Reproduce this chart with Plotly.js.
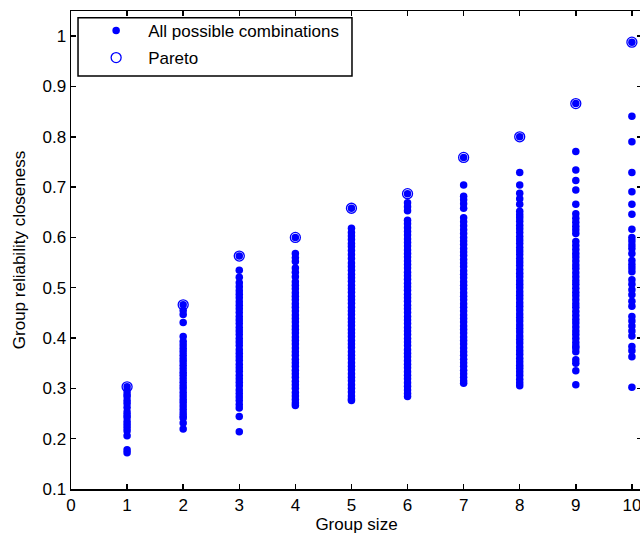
<!DOCTYPE html>
<html>
<head>
<meta charset="utf-8">
<script src="https://cdn.plot.ly/plotly-3.0.1.min.js"></script>
<style>
html,body{margin:0;padding:0;overflow:hidden;background:#fff;width:640px;height:534px;}
#chart{width:642px;height:534px;}
</style>
</head>
<body>
<div id="chart"></div>
<script>
// Group sizes (x categories)
const groupSizes = [1, 2, 3, 4, 5, 6, 7, 8, 9, 10];

// Pareto front: best group reliability closeness for each group size
const paretoValues = [0.303, 0.466, 0.563, 0.600, 0.658, 0.687, 0.759, 0.800, 0.866, 0.988];

// All possible combinations, per group size
const comb1 = [0.303, 0.296, 0.289, 0.284, 0.276, 0.270, 0.262, 0.253, 0.247, 0.242, 0.234, 0.228, 0.222, 0.216, 0.206, 0.178, 0.172];
const comb2 = [0.466, 0.455, 0.447, 0.431, 0.403, 0.393, 0.386, 0.379, 0.373, 0.366, 0.359, 0.353, 0.346, 0.339, 0.332, 0.326, 0.319, 0.312, 0.305, 0.299, 0.292, 0.285, 0.278, 0.272, 0.265, 0.258, 0.251, 0.245, 0.241, 0.231, 0.219];
const comb3 = [0.563, 0.535, 0.521, 0.510, 0.502, 0.494, 0.487, 0.480, 0.472, 0.465, 0.458, 0.451, 0.443, 0.436, 0.429, 0.421, 0.414, 0.407, 0.399, 0.392, 0.385, 0.377, 0.370, 0.363, 0.356, 0.348, 0.341, 0.334, 0.326, 0.319, 0.312, 0.305, 0.297, 0.290, 0.283, 0.276, 0.268, 0.261, 0.244, 0.214];
const comb4 = [0.600, 0.568, 0.560, 0.552, 0.539, 0.531, 0.522, 0.512, 0.505, 0.498, 0.490, 0.483, 0.476, 0.468, 0.461, 0.454, 0.446, 0.439, 0.432, 0.424, 0.417, 0.410, 0.402, 0.395, 0.388, 0.380, 0.373, 0.366, 0.358, 0.351, 0.344, 0.336, 0.329, 0.322, 0.314, 0.307, 0.300, 0.292, 0.285, 0.278, 0.271, 0.266];
const comb5 = [0.658, 0.618, 0.610, 0.603, 0.596, 0.588, 0.582, 0.574, 0.566, 0.558, 0.549, 0.542, 0.535, 0.527, 0.520, 0.513, 0.505, 0.498, 0.491, 0.483, 0.476, 0.469, 0.461, 0.454, 0.447, 0.439, 0.432, 0.425, 0.417, 0.410, 0.403, 0.395, 0.388, 0.381, 0.373, 0.366, 0.359, 0.351, 0.344, 0.337, 0.329, 0.322, 0.315, 0.307, 0.300, 0.293, 0.285, 0.279, 0.276];
const comb6 = [0.687, 0.669, 0.661, 0.653, 0.634, 0.627, 0.619, 0.612, 0.605, 0.597, 0.590, 0.583, 0.575, 0.568, 0.561, 0.553, 0.546, 0.539, 0.531, 0.524, 0.517, 0.509, 0.502, 0.495, 0.487, 0.480, 0.473, 0.465, 0.458, 0.451, 0.443, 0.436, 0.429, 0.421, 0.414, 0.407, 0.399, 0.392, 0.385, 0.377, 0.370, 0.363, 0.355, 0.348, 0.341, 0.333, 0.326, 0.319, 0.311, 0.304, 0.297, 0.290, 0.284];
const comb7 = [0.759, 0.704, 0.682, 0.675, 0.667, 0.658, 0.639, 0.631, 0.623, 0.615, 0.608, 0.600, 0.593, 0.586, 0.578, 0.571, 0.564, 0.556, 0.549, 0.542, 0.534, 0.527, 0.520, 0.512, 0.505, 0.498, 0.490, 0.483, 0.476, 0.468, 0.461, 0.454, 0.446, 0.439, 0.432, 0.424, 0.417, 0.410, 0.402, 0.395, 0.388, 0.380, 0.373, 0.366, 0.358, 0.351, 0.344, 0.336, 0.329, 0.322, 0.315, 0.310];
const comb8 = [0.800, 0.729, 0.704, 0.688, 0.677, 0.666, 0.652, 0.645, 0.639, 0.632, 0.624, 0.617, 0.610, 0.602, 0.595, 0.588, 0.580, 0.573, 0.566, 0.558, 0.551, 0.544, 0.536, 0.529, 0.522, 0.514, 0.507, 0.500, 0.492, 0.485, 0.478, 0.470, 0.463, 0.456, 0.448, 0.441, 0.434, 0.426, 0.419, 0.412, 0.404, 0.397, 0.390, 0.382, 0.375, 0.368, 0.360, 0.353, 0.346, 0.340, 0.333, 0.326, 0.318, 0.311, 0.305];
const comb9 = [0.866, 0.771, 0.734, 0.713, 0.694, 0.666, 0.647, 0.638, 0.630, 0.622, 0.615, 0.608, 0.592, 0.584, 0.576, 0.568, 0.561, 0.553, 0.545, 0.538, 0.530, 0.522, 0.514, 0.507, 0.499, 0.491, 0.484, 0.476, 0.468, 0.461, 0.453, 0.445, 0.437, 0.430, 0.422, 0.414, 0.407, 0.399, 0.391, 0.384, 0.380, 0.373, 0.357, 0.350, 0.335, 0.307];
const comb10 = [0.988, 0.841, 0.790, 0.729, 0.691, 0.666, 0.646, 0.616, 0.600, 0.593, 0.585, 0.578, 0.568, 0.554, 0.546, 0.539, 0.532, 0.516, 0.507, 0.496, 0.486, 0.473, 0.463, 0.443, 0.434, 0.424, 0.414, 0.404, 0.383, 0.375, 0.363, 0.302];

const combinations = [comb1, comb2, comb3, comb4, comb5, comb6, comb7, comb8, comb9, comb10];
const allX = [], allY = [];
combinations.forEach((vals, i) => {
  vals.forEach(v => { allX.push(groupSizes[i]); allY.push(v); });
});

const font = {family: '"Liberation Sans", Arial, Helvetica, sans-serif', size: 17, color: '#000'};

const traces = [
  {
    x: allX, y: allY, type: 'scatter', mode: 'markers',
    name: 'All possible combinations', legendgroup: 'a',
    marker: {color: '#0000ff', size: 7.5, line: {width: 0}},
    hoverinfo: 'x+y'
  },
  {
    x: groupSizes, y: paretoValues, type: 'scatter', mode: 'markers',
    name: 'Pareto', legendgroup: 'b',
    marker: {color: '#0000ff', size: 10, symbol: 'circle-open', line: {width: 1.3, color: '#0000ff'}},
    hoverinfo: 'x+y'
  }
];

const layout = {
  width: 642, height: 534,
  margin: {l: 71, r: 0, t: 11, b: 45, pad: 0},
  paper_bgcolor: '#fff', plot_bgcolor: '#fff',
  font: font,
  showlegend: true,
  legend: {
    x: 0.023, y: 0.996, xanchor: 'left', yanchor: 'top',
    bgcolor: 'rgba(0,0,0,0)', borderwidth: 0,
    font: font, itemwidth: 54, tracegroupgap: 2
  },
  xaxis: {
    range: [0, 10.18], tickvals: groupSizes.concat([0]), ticktext: groupSizes.map(String).concat(['0']),
    ticks: 'inside', ticklen: 5, tickwidth: 1.5, tickcolor: '#000',
    showline: true, linecolor: '#000', linewidth: 1.5, mirror: 'ticks',
    showgrid: false, zeroline: false, fixedrange: true,
    tickfont: font,
    title: {text: 'Group size', font: font, standoff: 8}
  },
  yaxis: {
    range: [0.1, 1.05], tickvals: [0.1,0.2,0.3,0.4,0.5,0.6,0.7,0.8,0.9,1],
    ticktext: ['0.1','0.2','0.3','0.4','0.5','0.6','0.7','0.8','0.9','1'],
    ticks: 'inside', ticklen: 5, tickwidth: 1.5, tickcolor: '#000',
    showline: true, linecolor: '#000', linewidth: 1.5, mirror: 'ticks',
    showgrid: false, zeroline: false, fixedrange: true,
    tickfont: font,
    title: {text: 'Group reliability closeness', font: font, standoff: 12}
  },
  shapes: [{
    type: 'rect', xref: 'paper', yref: 'paper', layer: 'below',
    x0: 0.0123, x1: 0.4921, y0: 0.8640, y1: 0.9860,
    line: {color: '#000', width: 1.5}, fillcolor: '#fff'
  }]
};

Plotly.newPlot('chart', traces, layout, {displayModeBar: false, staticPlot: true});
</script>
</body>
</html>
